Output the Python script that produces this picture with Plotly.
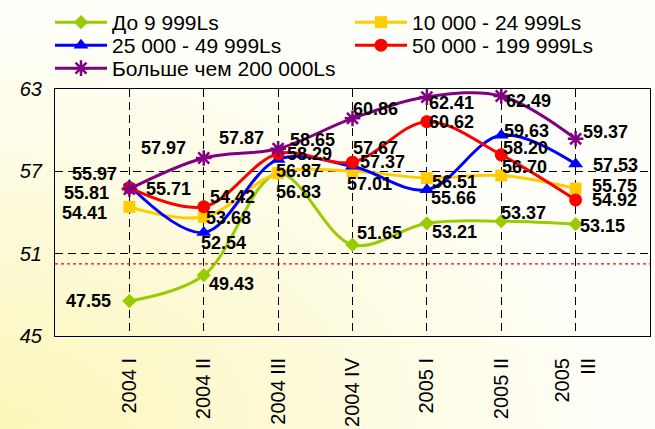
"""
Quarterly index by company size, 2004-2005 (Plotly recreation)
"""

import base64
import plotly.graph_objects as go

# ---- data -------------------------------------------------------------
quarters = ["2004 I", "2004 II", "2004 III", "2004 IV", "2005 I", "2005 II", "2005<br>III"]

names = ["До 9 999Ls", "10 000 - 24 999Ls", "25 000 - 49 999Ls",
         "50 000 - 199 999Ls", "Больше чем 200 000Ls"]

small = [47.55, 49.43, 56.83, 51.65, 53.21, 53.37, 53.15]
lower_mid = [54.41, 53.68, 56.87, 57.01, 56.51, 56.70, 55.75]
mid = [55.97, 52.54, 57.87, 57.37, 55.66, 59.63, 57.53]
upper_mid = [55.81, 54.42, 58.29, 57.67, 60.62, 58.20, 54.92]
large = [55.71, 57.97, 58.65, 60.86, 62.41, 62.49, 59.37]

threshold = 50.25

y_ticks = [45, 51, 57, 63]

# ---- styles -----------------------------------------------------------
colors = ["#99cc00", "#ffcc00", "#0000ff", "#ff0000", "#800080"]
symbols = ["diamond", "square", "triangle-up", "circle", "asterisk"]
marker_sizes = [11, 12, 13, 13, 13]

# legend entries laid out in two columns: (left px, top px) of each entry
legend_spots = [(50, 2), (350, 2), (50, 25), (350, 25), (50, 48)]

# pixel offsets of each value label from its point (xshift, yshift)
label_shifts = [
    [(-41, 0), (28, -9), (20, -18), (27, 12), (28, -9), (22, 8), (27, -2)],
    [(-45, -6), (25, -1), (20, 2), (17, -13), (28, -4), (23, 8), (39, 2)],
    [(-35, 11), (20, -10), (-37, 21), (30, 4), (27, -8), (25, 4), (40, -1)],
    [(-43, -5), (29, 10), (31, 0), (23, 14), (25, 0), (24, 7), (39, 0)],
    [(39, 0), (-40, 10), (34, 9), (23, 9), (25, -6), (27, -5), (30, 7)],
]

series = [small, lower_mid, mid, upper_mid, large]

W, H = 655, 429
ml, mr, mt, mb = 55, 5, 89, 93
pw, ph = W - ml - mr, H - mt - mb

fig = go.Figure()

legend_ids = ["legend" if i == 0 else f"legend{i + 1}" for i in range(len(series))]

for i, values in enumerate(series):
    marker = dict(color=colors[i], size=marker_sizes[i], symbol=symbols[i])
    if symbols[i] == "asterisk":
        marker["line"] = dict(color=colors[i], width=2.5)
    fig.add_trace(go.Scatter(
        x=quarters,
        y=values,
        name=names[i],
        legend=legend_ids[i],
        mode="lines+markers",
        line=dict(color=colors[i], width=3, shape="spline", smoothing=1),
        marker=marker,
        cliponaxis=False,
    ))

# value labels
for i, values in enumerate(series):
    for j, v in enumerate(values):
        dx, dy = label_shifts[i][j]
        fig.add_annotation(
            x=quarters[j], y=v, text=f"{v:.2f}",
            showarrow=False, xshift=dx, yshift=dy,
            font=dict(family="Arial", size=18, color="black", weight="bold"),
        )

# red dotted reference line
fig.add_shape(
    type="line", xref="paper", x0=0, x1=1, y0=threshold, y1=threshold,
    line=dict(color="red", width=1.3, dash="dot"),
)

# soft yellow gradient behind everything
svg = ('<svg xmlns="http://www.w3.org/2000/svg" width="655" height="429" '
       'preserveAspectRatio="none">'
       '<defs><radialGradient id="g" cx="0" cy="1" r="0.95">'
       '<stop offset="0" stop-color="#fbf6b8"/>'
       '<stop offset="1" stop-color="#fffffa"/>'
       '</radialGradient></defs>'
       '<rect width="655" height="429" fill="url(#g)"/></svg>')
bg_src = "data:image/svg+xml;base64," + base64.b64encode(svg.encode()).decode()

fig.add_layout_image(
    source=bg_src, xref="paper", yref="paper",
    x=-ml / pw, y=1 + mt / ph, sizex=W / pw, sizey=H / ph,
    xanchor="left", yanchor="top", sizing="stretch", layer="below",
)

legends = {}
for lid, (lx, ly) in zip(legend_ids, legend_spots):
    legends[lid] = dict(
        orientation="h",
        xref="container", yref="container",
        x=lx / W, xanchor="left",
        y=1 - ly / H, yanchor="top",
        font=dict(family="Arial", size=21, color="black"),
        bgcolor="rgba(0,0,0,0)",
        itemwidth=52,
    )

grid_dash = "8px,5px"

fig.update_layout(
    width=W, height=H,
    margin=dict(l=ml, r=mr, t=mt, b=mb, autoexpand=False),
    paper_bgcolor="white",
    plot_bgcolor="rgba(255,255,250,0.7)",
    font=dict(family="Arial", color="black"),
    showlegend=True,
    **legends,
    xaxis=dict(
        type="category",
        range=[-1, 7],
        showgrid=True, gridcolor="black", gridwidth=1, griddash=grid_dash,
        showline=True, linecolor="black", linewidth=1, mirror=True,
        ticks="", tickangle=-90,
        tickfont=dict(family="Arial", size=20, color="black"),
        ticklabelstandoff=13,
        zeroline=False,
    ),
    yaxis=dict(
        range=[y_ticks[0], y_ticks[-1]],
        tickvals=y_ticks,
        showgrid=True, gridcolor="black", gridwidth=1, griddash=grid_dash,
        showline=True, linecolor="black", linewidth=1, mirror=True,
        ticks="",
        tickfont=dict(family="Arial", size=20, color="black", style="italic"),
        ticklabelstandoff=8,
        zeroline=False,
    ),
)

fig.write_html("out.html", config={"displayModeBar": False},
               post_script="document.body.style.margin = '0';")
